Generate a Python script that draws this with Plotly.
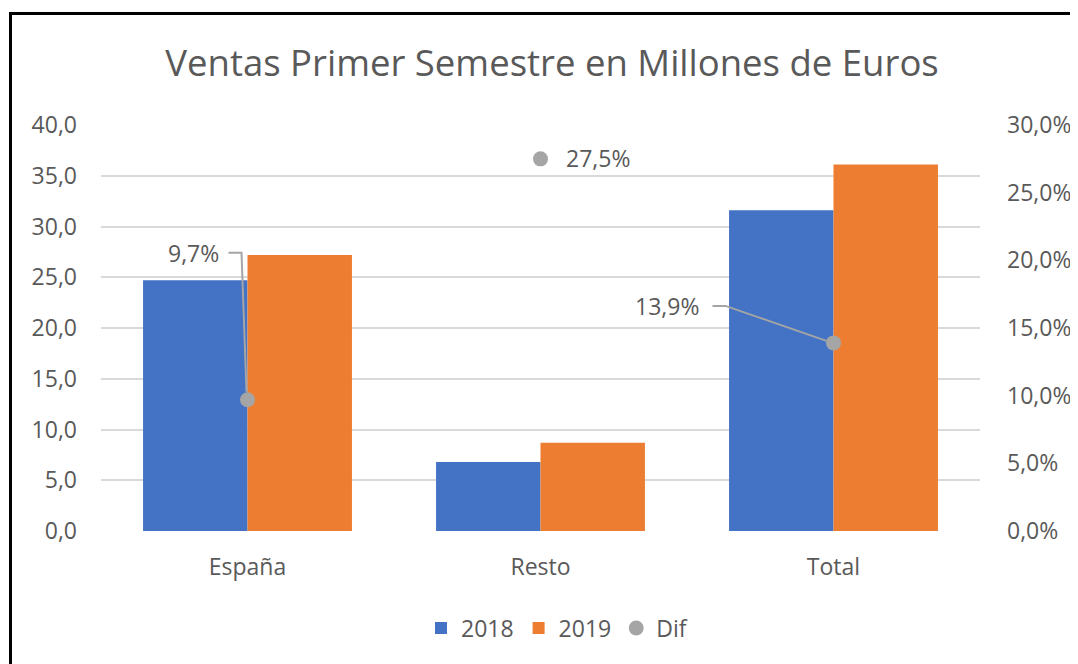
import plotly.graph_objects as go

categories = ["España", "Resto", "Total"]
ventas_2018 = [24.7, 6.8, 31.6]
ventas_2019 = [27.2, 8.7, 36.1]
dif = [0.097, 0.275, 0.139]
dif_labels = ["9,7%", "27,5%", "13,9%"]

BLUE = "#4472C4"
ORANGE = "#ED7D31"
GRAY = "#A5A5A5"
TXT = "#595959"
FONT = "Open Sans"

# page body has an 8px margin; figure coordinates below are page coords minus 8
W, H = 1070, 656
L, R, T, B = 93, 98, 117, 133
PW, PH = W - L - R, H - T - B

fig = go.Figure()
fig.add_trace(go.Bar(name="2018", x=categories, y=ventas_2018, marker_color=BLUE,
                     marker_line_width=0))
fig.add_trace(go.Bar(name="2019", x=categories, y=ventas_2019, marker_color=ORANGE,
                     marker_line_width=0))
fig.add_trace(go.Scatter(name="Dif", x=categories, y=dif, yaxis="y2", mode="markers",
                         marker=dict(color=GRAY, size=15)))

# data labels (offsets in pixels from each point)
label_offsets = [(-27, 147, "right"), (23, 1, "left"), (-133, 37, "right")]
for cat, v, lab, (dx, dy, anc) in zip(categories, dif, dif_labels, label_offsets):
    fig.add_annotation(x=cat, y=v, xref="x", yref="y2", text=lab, showarrow=False,
                       xanchor=anc, yanchor="middle", xshift=dx, yshift=dy,
                       font=dict(size=23, color=TXT, family=FONT))

# leader lines (pixel paths anchored at the data points)
leaders = [(0, "M-19,147 L-6,147 L-1,8"), (2, "M-121,37 L-108,37 L-7,2")]
for i, path in leaders:
    fig.add_shape(type="path", xref="x", yref="y2", xsizemode="pixel", ysizemode="pixel",
                  xanchor=i, yanchor=dif[i], path=path,
                  line=dict(color=GRAY, width=2), layer="above")

# outer border
fig.add_shape(type="rect", xref="paper", yref="paper",
              x0=(2.5 - L) / PW, x1=(1090 - L) / PW,
              y0=-(H + 20 - (T + PH)) / PH, y1=(T + PH - 5.5) / PH,
              line=dict(color="black", width=3), layer="above")

fig.update_layout(
    width=W, height=H,
    margin=dict(l=L, r=R, t=T, b=B, autoexpand=False),
    paper_bgcolor="white", plot_bgcolor="white",
    separators=",.",
    barmode="group", bargap=0.287, bargroupgap=0,
    font=dict(family=FONT, color=TXT, size=23),
    title=dict(text="Ventas Primer Semestre en Millones de Euros",
               xref="paper", x=(552 - 8 - L) / PW, xanchor="center",
               y=1 - 55 / H, yanchor="middle",
               font=dict(size=36.5, color=TXT, family=FONT)),
    xaxis=dict(showgrid=False, showline=False, ticks="", ticklabelstandoff=20,
               automargin=False, tickfont=dict(size=23, color=TXT)),
    yaxis=dict(range=[0, 40], dtick=5, tickformat=".1f", showgrid=True,
               gridcolor="#D9D9D9", gridwidth=2, zeroline=False, showline=False,
               automargin=False, ticks="", ticklabelstandoff=23,
               tickfont=dict(size=23, color=TXT)),
    yaxis2=dict(range=[0, 0.30], dtick=0.05, tickformat=".1%", overlaying="y",
                side="right", showgrid=False, zeroline=False, showline=False,
                automargin=False, ticks="", ticklabelstandoff=26,
                tickfont=dict(size=23, color=TXT)),
    legend=dict(orientation="h", x=(557 - 8 - L) / PW, xanchor="center",
                y=(T + PH - (628 - 8)) / PH, yanchor="middle",
                font=dict(size=23, color=TXT), itemwidth=30, traceorder="normal"),
    showlegend=True,
)

fig.write_html("out.html")
